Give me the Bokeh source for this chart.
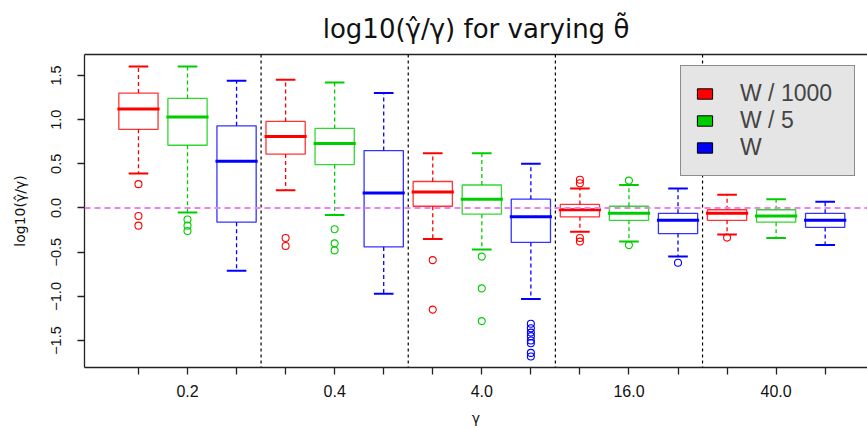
import math
from bokeh.plotting import figure
from bokeh.models import (FixedTicker, CustomJSTickFormatter, Span, Legend, LegendItem,
                          LinearAxis, Range1d, ColumnDataSource)
from bokeh.embed import file_html
from bokeh.resources import INLINE

# ---------------- data ----------------
categories = ["0.2", "0.4", "4.0", "16.0", "40.0"]
series_names = ["W / 1000", "W / 5", "W"]
series_colors = ["#ff0000", "#00cd00", "#0000ff"]

# W / 1000 (red)
w1000_upper = [1.60, 1.45, 0.62, 0.22, 0.15]
w1000_q3 = [1.30, 0.98, 0.30, 0.04, -0.02]
w1000_med = [1.12, 0.81, 0.18, -0.02, -0.06]
w1000_q1 = [0.89, 0.61, 0.02, -0.10, -0.14]
w1000_lower = [0.39, 0.20, -0.35, -0.27, -0.30]
w1000_out = [[0.27, -0.09, -0.20], [-0.34, -0.43], [-0.59, -1.15],
             [0.32, 0.28, -0.34, -0.38], [-0.335]]

# W / 5 (green)
w5_upper = [1.60, 1.42, 0.62, 0.26, 0.10]
w5_q3 = [1.24, 0.90, 0.26, 0.02, -0.02]
w5_med = [1.03, 0.73, 0.10, -0.06, -0.09]
w5_q1 = [0.71, 0.49, -0.07, -0.14, -0.16]
w5_lower = [-0.05, -0.08, -0.47, -0.38, -0.34]
w5_out = [[-0.13, -0.20, -0.26], [-0.24, -0.40, -0.48], [-0.55, -0.91, -1.28],
          [0.31, -0.42], []]

# W (blue)
w_upper = [1.44, 1.30, 0.50, 0.22, 0.07]
w_q3 = [0.93, 0.65, 0.10, -0.06, -0.06]
w_med = [0.53, 0.17, -0.10, -0.14, -0.14]
w_q1 = [-0.16, -0.44, -0.39, -0.29, -0.22]
w_lower = [-0.71, -0.97, -1.03, -0.55, -0.42]
w_out = [[], [], [-1.31, -1.36, -1.41, -1.45, -1.50, -1.53, -1.64, -1.68],
         [-0.62], []]

series_stats = [
    (w1000_upper, w1000_q3, w1000_med, w1000_q1, w1000_lower, w1000_out),
    (w5_upper, w5_q3, w5_med, w5_q1, w5_lower, w5_out),
    (w_upper, w_q3, w_med, w_q1, w_lower, w_out),
]

# ---------------- figure ----------------
FONT = "Liberation Sans"
MATHFONT = "DejaVu Sans"
p = figure(width=867, height=428, output_backend="svg", toolbar_location=None,
           x_range=Range1d(-0.1, 15.863), y_range=Range1d(-1.805, 1.737),
           min_border_left=84, min_border_right=0, min_border_top=54,
           min_border_bottom=60,
           title="log10(\u03b3\u0302/\u03b3) for varying \u03b8\u0303")
p.outline_line_color = None
p.background_fill_color = "white"
p.border_fill_color = "white"
p.xgrid.grid_line_color = None
p.ygrid.grid_line_color = None

p.title.align = "center"
p.title.text_font = MATHFONT
p.title.text_font_style = "normal"
p.title.text_font_size = "26px"
p.title.text_color = "#111111"
p.title.standoff = 21

n_ser = len(series_names)
positions = list(range(1, len(categories) * n_ser + 1))

# group separators
for g in range(1, len(categories)):
    p.add_layout(Span(location=g * n_ser + 0.5, dimension="height",
                      line_color="black", line_dash="3 3", line_width=1.2))

half = 0.4
cap = 0.2
legend_renderers = []
for s, (up, q3, med, q1, lo, outs) in enumerate(series_stats):
    col = series_colors[s]
    xs = [g * n_ser + s + 1 for g in range(len(categories))]
    src = ColumnDataSource(dict(
        x=xs, l=[x - half for x in xs], r=[x + half for x in xs],
        cl=[x - cap for x in xs], cr=[x + cap for x in xs],
        ml=[x - half - 0.03 for x in xs], mr=[x + half + 0.03 for x in xs],
        up=up, q3=q3, med=med, q1=q1, lo=lo))
    p.segment(x0="x", y0="q3", x1="x", y1="up", source=src, line_color=col,
              line_width=1.3, line_dash="4 3")
    p.segment(x0="x", y0="q1", x1="x", y1="lo", source=src, line_color=col,
              line_width=1.3, line_dash="4 3")
    p.segment(x0="cl", y0="up", x1="cr", y1="up", source=src, line_color=col, line_width=2)
    p.segment(x0="cl", y0="lo", x1="cr", y1="lo", source=src, line_color=col, line_width=2)
    p.quad(left="l", right="r", bottom="q1", top="q3", source=src, fill_color=None,
           line_color=col, line_width=1.3, line_alpha=0.8)
    p.segment(x0="ml", y0="med", x1="mr", y1="med", source=src, line_color=col, line_width=3)
    ox, oy = [], []
    for g, vals in enumerate(outs):
        for v in vals:
            ox.append(g * n_ser + s + 1)
            oy.append(v)
    p.scatter(ox, oy, marker="circle", size=7, fill_color=None, line_color=col,
              line_width=1.1)
    # legend swatch renderer (not shown in the plot itself)
    lr = p.quad(left="l", right="r", bottom="q1", top="q3", source=src, fill_color=col,
                line_color="black", line_width=1, visible=False)
    legend_renderers.append(lr)

# reference line at 0
p.add_layout(Span(location=0, dimension="width", line_color="violet",
                  line_dash="6 4", line_width=2))

# axes
label_map = {}
for x in positions:
    label_map[x] = ""
for g, c in enumerate(categories):
    label_map[g * n_ser + 2] = c
p.xaxis.ticker = FixedTicker(ticks=positions)
p.xaxis.major_label_overrides = label_map
p.xaxis.axis_label = "\u03b3"
p.yaxis.axis_label = "log10(\u03b3\u0302/\u03b3)"
p.yaxis.ticker = FixedTicker(ticks=[-1.5, -1.0, -0.5, 0.0, 0.5, 1.0, 1.5])
p.yaxis.formatter = CustomJSTickFormatter(code="return tick.toFixed(1).replace('-', '\u2212');")
p.yaxis.major_label_orientation = "vertical"
for ax in (p.xaxis[0], p.yaxis[0]):
    ax.major_tick_out = 7
    ax.major_tick_in = 0
    ax.minor_tick_line_color = None
    ax.axis_line_color = "#222222"
    ax.axis_line_width = 1.3
    ax.major_tick_line_color = "#222222"
    ax.major_tick_line_width = 1.3
    ax.major_label_text_font = FONT
    ax.major_label_text_color = "#111111"
    ax.axis_label_text_font_style = "normal"
    ax.axis_label_text_color = "#111111"
p.xaxis.major_label_text_font_size = "16px"
p.yaxis.major_label_text_font_size = "14.5px"
p.xaxis.major_label_standoff = 10
p.yaxis.major_label_standoff = 16
p.xaxis.axis_label_text_font = MATHFONT
p.yaxis.axis_label_text_font = MATHFONT
p.xaxis.axis_label_text_font_size = "14px"
p.yaxis.axis_label_text_font_size = "14px"
p.xaxis.axis_label_standoff = 10
p.yaxis.axis_label_standoff = 21

top_axis = LinearAxis(ticker=FixedTicker(ticks=[]), major_label_text_font_size="0px",
                      major_tick_line_color=None, minor_tick_line_color=None,
                      axis_line_color="#222222", axis_line_width=1.3)
p.add_layout(top_axis, "above")

# legend
items = [LegendItem(label=name, renderers=[r])
         for name, r in zip(series_names, legend_renderers)]
legend = Legend(items=items, location=(596, 191), margin=0, padding=14,
                spacing=0, glyph_width=19, glyph_height=13, label_height=25,
                label_width=100, label_standoff=26,
                label_text_font=FONT, label_text_font_size="23px",
                background_fill_color="#e5e5e5", background_fill_alpha=1,
                border_line_color="#333333", border_line_width=1.5,
                inactive_fill_alpha=0)
p.add_layout(legend, "center")

open("out.html", "w").write(file_html(p, INLINE))
